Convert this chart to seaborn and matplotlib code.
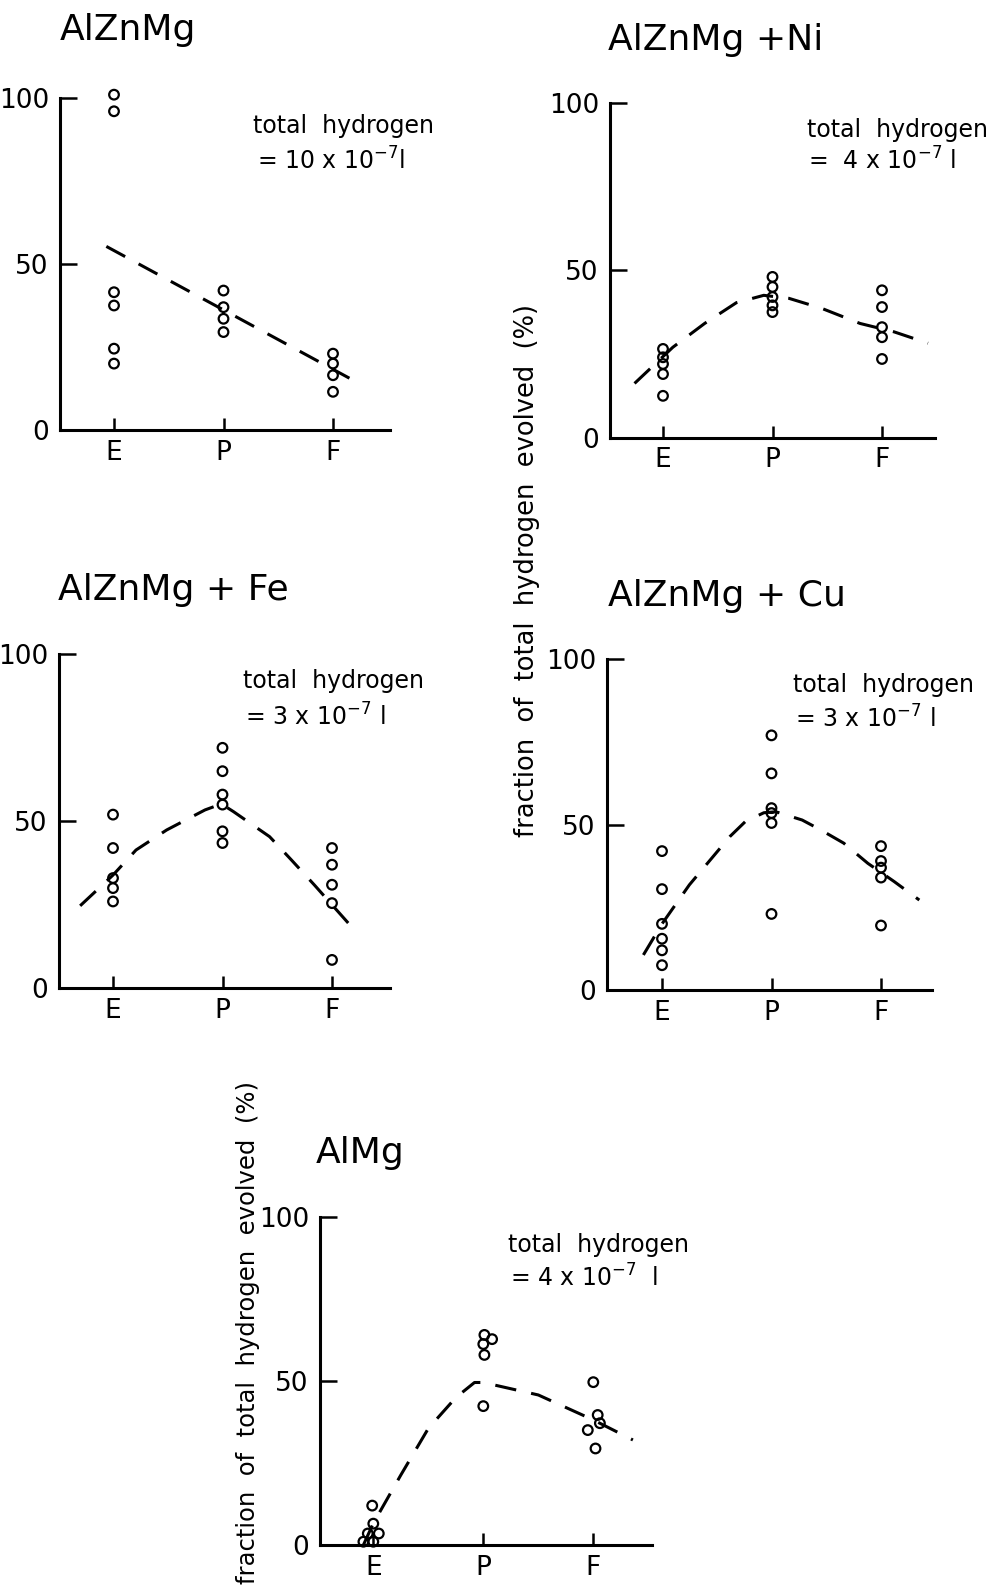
import numpy as np
import pandas as pd
import matplotlib
matplotlib.use("Agg")
import matplotlib.pyplot as plt
import seaborn as sns
from matplotlib import font_manager

# ---------------- data ----------------
stages = ["E", "P", "F"]

alznmg_E = [101, 96, 41.5, 37.5, 24.5, 20]
alznmg_P = [42, 37, 33.5, 29.5]
alznmg_F = [23, 20, 16.5, 11.5]
alznmg_trend_x = [-0.07, 2.15]
alznmg_trend_y = [55.3, 15.6]

ni_E = [26.5, 24, 22, 19, 12.5]
ni_P = [48, 45, 42, 39.5, 37.5]
ni_F = [44, 39, 33, 30, 23.5]
ni_trend_x = [-0.26, 0.09, 0.38, 0.67, 0.92, 1.15, 1.45, 1.80, 2.11, 2.42]
ni_trend_y = [16.2, 27.0, 34.1, 40.3, 42.5, 41.6, 38.6, 34.1, 31.6, 28.2]

fe_E = [52, 42, 33, 30, 26]
fe_P = [72, 65, 58, 55, 47, 43.5]
fe_F = [42, 37, 31, 25.5, 8.5]
fe_trend_x = [-0.30, 0.0, 0.21, 0.49, 0.84, 0.99, 1.10, 1.43, 1.63, 1.84, 2.0, 2.19]
fe_trend_y = [24.7, 33.9, 41.4, 47.4, 53.4, 55.2, 52.9, 45.4, 38.4, 30.9, 25.0, 18.0]

cu_E = [42, 30.5, 20, 15.5, 12, 7.5]
cu_P = [77, 65.5, 55, 53.5, 50.5, 23]
cu_F = [43.5, 39, 37, 34, 19.5]
cu_trend_x = [-0.17, 0.0, 0.25, 0.44, 0.62, 0.76, 0.93, 1.04, 1.28, 1.45, 1.66, 1.88, 2.12, 2.35]
cu_trend_y = [10.6, 20.0, 31.8, 39.3, 46.4, 50.9, 53.6, 53.9, 51.4, 48.4, 44.4, 38.3, 32.8, 27.2]

almg_E = [12, 6.5, 3.5, 3.5, 1, 1]
almg_E_dx = [-0.01, 0.0, -0.05, 0.05, -0.09, 0.0]
almg_P = [64, 62.7, 61.2, 57.9, 42.3]
almg_P_dx = [0.01, 0.08, 0.0, 0.01, 0.0]
almg_F = [49.6, 39.6, 37.1, 35.0, 29.4]
almg_F_dx = [0.0, 0.04, 0.06, -0.05, 0.02]
almg_trend_x = [-0.09, 0.0, 0.25, 0.5, 0.75, 0.92, 1.0, 1.5, 2.0, 2.36]
almg_trend_y = [0.0, 6.6, 21.3, 35.5, 44.9, 49.5, 49.5, 45.7, 38.1, 32.0]

titles = ["AlZnMg", "AlZnMg +Ni", "AlZnMg + Fe", "AlZnMg + Cu", "AlMg"]
totals = ["= 10 x 10$^{-7}$l", "=  4 x 10$^{-7}$ l", "= 3 x 10$^{-7}$ l",
          "= 3 x 10$^{-7}$ l", "= 4 x 10$^{-7}$  l"]
ylabel = "fraction of total hydrogen evolved (%)"


def points(e, p, f, de=None, dp=None, df=None):
    rows = []
    for i, (vals, d) in enumerate([(e, de), (p, dp), (f, df)]):
        for j, v in enumerate(vals):
            rows.append({"x": i + (d[j] if d is not None else 0.0), "y": v})
    return pd.DataFrame(rows)


panels_data = [
    (points(alznmg_E, alznmg_P, alznmg_F), alznmg_trend_x, alznmg_trend_y),
    (points(ni_E, ni_P, ni_F), ni_trend_x, ni_trend_y),
    (points(fe_E, fe_P, fe_F), fe_trend_x, fe_trend_y),
    (points(cu_E, cu_P, cu_F), cu_trend_x, cu_trend_y),
    (points(almg_E, almg_P, almg_F, almg_E_dx, almg_P_dx, almg_F_dx), almg_trend_x, almg_trend_y),
]

# ---------------- layout (pixels of the 994x1589 figure) ----------------
W, H = 994, 1589
# left, right, top(=100), bottom(=0), x of E, category spacing
rects = [
    (60, 390, 98, 430, 114, 109.5),
    (610, 935, 102.7, 437.7, 663, 109.5),
    (59, 390, 654.3, 988.3, 113, 109.5),
    (607, 932, 659.3, 990, 662, 109.5),
    (320, 651.7, 1216.7, 1545, 373.3, 110),
]
# annotation positions in axes fraction: (x1, y1, x2, y2, title y)
annot = [
    (0.585, 0.895, 0.597, 0.783, 1.175),
    (0.606, 0.898, 0.609, 0.799, 1.157),
    (0.556, 0.899, 0.562, 0.786, 1.163),
    (0.572, 0.901, 0.578, 0.792, 1.161),
    (0.567, 0.892, 0.573, 0.786, 1.163),
]
title_x = [0.0, -0.005, -0.003, 0.003, -0.012]

sns.set_theme(style="ticks")
plt.rcParams["font.family"] = ["DejaVu Sans"]
plt.rcParams["mathtext.fontset"] = "dejavusans"
names = {f.name for f in font_manager.fontManager.ttflist}
tick_family = "Liberation Sans Narrow" if "Liberation Sans Narrow" in names else "DejaVu Sans"

fig = plt.figure(figsize=(W / 100, H / 100), dpi=100)
fig.patch.set_facecolor("white")

for k, ((df, tx, ty), (l, r, t, b, xe, sp)) in enumerate(zip(panels_data, rects)):
    ax = fig.add_axes([l / W, 1 - b / H, (r - l) / W, (b - t) / H])
    ax.set_facecolor("white")
    sns.lineplot(x=tx, y=ty, ax=ax, color="black", linewidth=2.2,
                 linestyle=(0, (7, 5)), sort=False, estimator=None)
    sns.scatterplot(data=df, x="x", y="y", ax=ax, s=48, marker="o",
                    color="black", linewidth=1.6, legend=False)
    coll = ax.collections[-1]
    coll.set_facecolor("none")
    coll.set_edgecolor("black")
    coll.set_clip_on(False)
    ax.set_xlim((l - xe) / sp, (r - xe) / sp)
    ax.set_ylim(0, 100)
    ax.set_xticks([0, 1, 2])
    ax.set_xticklabels(stages)
    ax.set_yticks([0, 50, 100])
    ax.set_yticklabels(["0", "50", "100"])
    ax.set_xlabel("")
    ax.set_ylabel("")
    sns.despine(ax=ax)
    for s in ("left", "bottom"):
        ax.spines[s].set_linewidth(2.2)
        ax.spines[s].set_color("black")
    ax.tick_params(axis="x", direction="in", length=9, width=1.8, labelsize=19, pad=7, colors="black")
    ax.tick_params(axis="y", direction="in", length=12, width=1.8, labelsize=19, pad=8, colors="black")
    for lab in ax.get_xticklabels() + ax.get_yticklabels():
        lab.set_fontfamily(tick_family)
    x1, y1, x2, y2, ytit = annot[k]
    ax.text(title_x[k], ytit, titles[k], transform=ax.transAxes, fontsize=26,
            ha="left", va="baseline", color="black")
    ax.text(x1, y1, "total  hydrogen", transform=ax.transAxes, fontsize=17,
            ha="left", va="baseline", color="black")
    ax.text(x2, y2, totals[k], transform=ax.transAxes, fontsize=17,
            ha="left", va="baseline", color="black")

fig.text(527 / W, 1 - 570 / H, ylabel.replace(" ", "  "), rotation=90,
         ha="center", va="center", fontsize=18.5, color="black")
fig.text(248 / W, 1 - 1333 / H, ylabel.replace(" ", "  "), rotation=90,
         ha="center", va="center", fontsize=17.5, color="black")

fig.savefig("out.png", dpi=100, facecolor="white")
